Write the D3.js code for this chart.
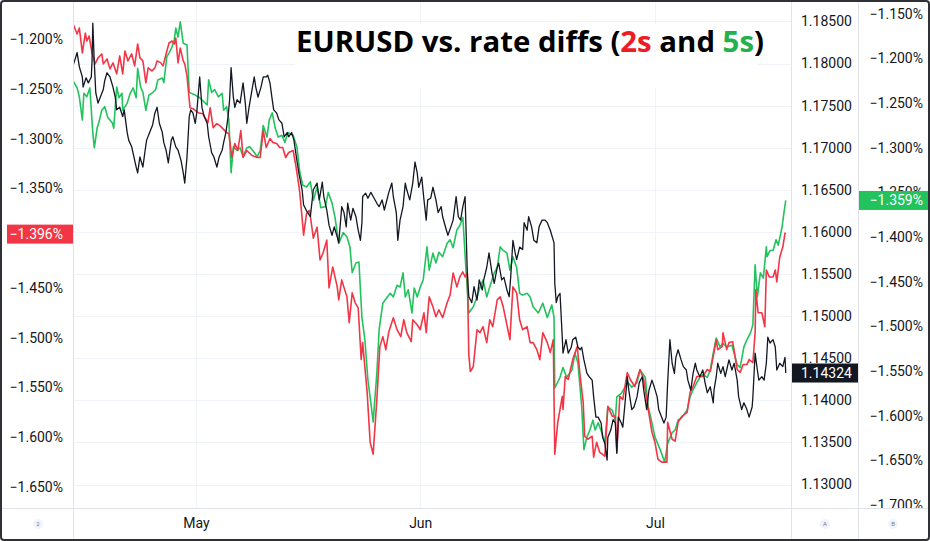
<!DOCTYPE html>
<html>
<head>
  <meta charset="utf-8">
  <title>EURUSD vs. rate diffs</title>
  <script src="https://d3js.org/d3.v7.min.js"></script>
  <style>
    body { margin: 0; background: #fff; }
    svg { display: block; background: #fff; font-family: Roboto, "DejaVu Sans", sans-serif; }
    .tick-label text { font-size: 14px; fill: #131722; }
    .sep { stroke: #e0e3eb; stroke-width: 1px; }
    .grid { stroke: #f0f3fa; stroke-width: 1px; }
    .series { fill: none; stroke-linejoin: round; }
    .last-label { font-size: 14px; fill: #fff; }
    .marker text { font-size: 6px; fill: #787b86; text-anchor: middle; }
  </style>
</head>
<body>
<svg></svg>
<script>
  //begin: data
  var monthLabels = ["May", "Jun", "Jul"];
  var monthTicks = [30.0, 60.0, 91.4]; // chart time position (days from Apr 1) of each month start

  var leftTicks = [-1.20, -1.25, -1.30, -1.35, -1.45, -1.50, -1.55, -1.60, -1.65];
  var eurTicks = [1.185, 1.18, 1.175, 1.17, 1.165, 1.16, 1.155, 1.15, 1.145, 1.14, 1.135, 1.13];
  var rightTicks = [-1.15, -1.20, -1.25, -1.30, -1.35, -1.40, -1.45, -1.50, -1.55, -1.60, -1.65, -1.70];

  // 2-year rate differential, % (left scale)
  var rate2s = [
    [13.5,-1.184],[14.1,-1.195],[14.4,-1.189],[14.8,-1.214],[15.2,-1.194],[15.4,-1.202],[15.7,-1.197],[16.1,-1.214],
    [16.5,-1.225],[16.9,-1.219],[17.4,-1.215],[17.6,-1.225],[18.1,-1.220],[18.5,-1.230],[18.9,-1.224],[19.4,-1.235],
    [19.8,-1.217],[20.2,-1.235],[20.5,-1.212],[20.9,-1.222],[21.4,-1.215],[21.8,-1.227],[22.2,-1.205],[22.5,-1.219],
    [22.9,-1.222],[23.3,-1.244],[23.6,-1.229],[24.1,-1.232],[24.5,-1.229],[24.8,-1.222],[25.3,-1.224],[25.6,-1.227],
    [26.0,-1.215],[26.4,-1.204],[26.8,-1.202],[27.1,-1.205],[27.3,-1.199],[27.6,-1.224],[27.9,-1.209],[28.3,-1.222],
    [28.5,-1.225],[28.8,-1.237],[29.2,-1.269],[29.6,-1.270],[30.3,-1.274],[30.9,-1.275],[31.6,-1.284],[31.9,-1.269],
    [32.3,-1.289],[32.8,-1.285],[33.2,-1.287],[33.6,-1.290],[34.1,-1.294],[34.4,-1.295],[34.8,-1.319],[35.2,-1.305],
    [35.6,-1.312],[36.0,-1.292],[36.3,-1.319],[36.8,-1.312],[37.5,-1.317],[38.2,-1.319],[38.6,-1.319],[39.0,-1.292],
    [39.4,-1.309],[39.9,-1.300],[40.3,-1.304],[40.8,-1.305],[41.2,-1.309],[41.6,-1.309],[42.0,-1.319],[42.4,-1.314],
    [43.0,-1.312],[43.4,-1.329],[43.8,-1.349],[43.9,-1.355],[44.4,-1.397],[44.8,-1.375],[45.2,-1.372],[45.7,-1.400],
    [46.2,-1.389],[46.6,-1.422],[47.0,-1.415],[47.5,-1.402],[47.8,-1.450],[48.3,-1.429],[48.6,-1.439],[48.9,-1.449],
    [49.1,-1.462],[49.5,-1.442],[49.9,-1.452],[50.2,-1.459],[50.5,-1.485],[50.9,-1.455],[51.3,-1.465],[51.7,-1.470],
    [52.1,-1.522],[52.3,-1.505],[52.9,-1.555],[53.3,-1.605],[53.7,-1.617],[54.2,-1.562],[54.6,-1.509],[55.0,-1.499],
    [55.4,-1.512],[55.8,-1.494],[56.4,-1.480],[56.9,-1.492],[57.4,-1.499],[57.8,-1.482],[58.2,-1.495],[58.8,-1.504],
    [59.0,-1.482],[59.6,-1.487],[60.0,-1.492],[60.5,-1.475],[60.8,-1.495],[61.2,-1.459],[61.7,-1.469],[62.1,-1.479],
    [62.5,-1.472],[63.0,-1.480],[63.6,-1.465],[64.0,-1.457],[64.4,-1.435],[64.9,-1.449],[65.3,-1.439],[65.7,-1.434],
    [66.0,-1.439],[66.3,-1.435],[66.5,-1.517],[66.7,-1.534],[67.1,-1.529],[67.6,-1.492],[68.0,-1.495],[68.4,-1.489],
    [68.9,-1.505],[69.3,-1.482],[69.7,-1.489],[70.3,-1.462],[70.7,-1.459],[71.1,-1.469],[72.0,-1.502],[72.4,-1.449],
    [72.9,-1.455],[73.3,-1.482],[73.7,-1.492],[74.3,-1.489],[74.7,-1.505],[75.1,-1.505],[75.6,-1.512],[76.0,-1.522],
    [76.4,-1.495],[77.0,-1.505],[77.4,-1.515],[77.8,-1.502],[78.0,-1.617],[78.4,-1.585],[79.0,-1.559],[79.1,-1.572],
    [79.4,-1.539],[79.8,-1.542],[80.4,-1.522],[81.0,-1.509],[81.4,-1.539],[81.8,-1.565],[82.0,-1.599],[82.4,-1.602],
    [83.0,-1.599],[83.2,-1.620],[83.6,-1.605],[84.0,-1.615],[84.7,-1.619],[85.1,-1.569],[85.7,-1.579],[86.1,-1.579],
    [86.3,-1.615],[86.7,-1.559],[87.1,-1.562],[87.7,-1.535],[88.1,-1.542],[88.7,-1.549],[89.4,-1.532],[89.9,-1.542],
    [90.5,-1.572],[91.0,-1.595],[91.4,-1.605],[91.8,-1.622],[92.3,-1.625],[93.0,-1.625],[93.1,-1.585],[93.7,-1.602],
    [94.1,-1.604],[94.5,-1.585],[95.0,-1.579],[95.7,-1.575],[96.1,-1.555],[96.5,-1.549],[97.0,-1.539],[97.8,-1.539],
    [98.4,-1.532],[98.8,-1.534],[99.2,-1.519],[99.6,-1.502],[99.8,-1.512],[100.4,-1.509],[100.5,-1.495],[101.0,-1.512],
    [101.3,-1.505],[101.8,-1.504],[102.4,-1.532],[102.8,-1.535],[103.2,-1.527],[103.7,-1.527],[104.0,-1.522],[104.5,-1.525],
    [104.8,-1.495],[104.9,-1.452],[105.2,-1.475],[105.7,-1.475],[106.1,-1.489],[106.3,-1.432],[106.7,-1.439],[107.2,-1.439],
    [107.5,-1.432],[107.7,-1.444],[108.1,-1.419],[108.5,-1.409],[108.8,-1.395],[108.9,-1.396]
  ];

  // 5-year rate differential, % (outer right scale)
  var rate5s = [
    [13.5,-1.224],[14.1,-1.233],[14.4,-1.243],[14.8,-1.269],[15.0,-1.239],[15.4,-1.243],[15.8,-1.233],[16.2,-1.283],
    [16.4,-1.300],[16.8,-1.277],[17.0,-1.272],[17.4,-1.258],[17.8,-1.254],[18.2,-1.266],[18.8,-1.272],[19.0,-1.278],
    [19.4,-1.232],[19.7,-1.244],[20.1,-1.239],[20.2,-1.258],[20.8,-1.250],[21.2,-1.239],[21.6,-1.233],[22.0,-1.244],
    [22.2,-1.211],[22.6,-1.232],[22.9,-1.238],[23.3,-1.258],[23.7,-1.241],[24.1,-1.239],[24.6,-1.235],[24.9,-1.224],
    [25.5,-1.222],[25.7,-1.227],[26.1,-1.198],[26.4,-1.194],[26.8,-1.187],[27.1,-1.179],[27.3,-1.166],[27.6,-1.176],
    [27.9,-1.159],[28.3,-1.183],[28.8,-1.185],[29.1,-1.238],[29.9,-1.241],[30.5,-1.244],[31.5,-1.252],[31.7,-1.224],
    [32.1,-1.238],[32.5,-1.235],[33.0,-1.243],[33.5,-1.239],[33.7,-1.258],[34.1,-1.254],[34.4,-1.269],[34.7,-1.328],
    [35.0,-1.299],[35.5,-1.303],[35.9,-1.300],[36.3,-1.310],[36.8,-1.300],[37.2,-1.299],[37.6,-1.303],[38.2,-1.310],
    [38.6,-1.303],[39.0,-1.275],[39.5,-1.288],[39.8,-1.269],[40.2,-1.261],[40.6,-1.278],[41.0,-1.288],[41.5,-1.286],
    [41.9,-1.294],[42.3,-1.283],[43.0,-1.286],[43.5,-1.299],[43.9,-1.328],[44.3,-1.342],[44.8,-1.344],[45.3,-1.338],
    [45.7,-1.359],[46.2,-1.344],[46.7,-1.367],[47.3,-1.366],[47.7,-1.350],[48.2,-1.362],[48.6,-1.378],[49.1,-1.407],
    [49.7,-1.395],[50.2,-1.400],[50.6,-1.411],[50.9,-1.440],[51.4,-1.429],[51.8,-1.428],[52.2,-1.490],[52.6,-1.515],
    [53.0,-1.560],[53.4,-1.586],[53.7,-1.607],[54.2,-1.552],[54.5,-1.504],[55.0,-1.474],[55.6,-1.467],[56.0,-1.463],
    [56.4,-1.467],[56.9,-1.454],[57.3,-1.456],[57.7,-1.440],[58.0,-1.467],[58.4,-1.459],[58.9,-1.485],[59.2,-1.457],
    [59.6,-1.467],[60.0,-1.456],[60.4,-1.448],[60.9,-1.411],[61.2,-1.437],[61.7,-1.418],[62.1,-1.429],[62.5,-1.417],
    [63.0,-1.422],[63.6,-1.407],[64.0,-1.403],[64.4,-1.412],[64.9,-1.392],[65.3,-1.387],[65.7,-1.378],[66.1,-1.434],
    [66.5,-1.485],[67.1,-1.478],[67.6,-1.467],[68.0,-1.456],[68.4,-1.448],[68.9,-1.467],[69.3,-1.456],[69.9,-1.440],
    [70.3,-1.434],[70.7,-1.411],[71.1,-1.415],[71.6,-1.418],[72.0,-1.437],[72.4,-1.422],[72.9,-1.434],[73.3,-1.463],
    [73.7,-1.465],[74.3,-1.463],[74.7,-1.467],[75.1,-1.478],[75.8,-1.485],[76.4,-1.474],[77.0,-1.490],[77.6,-1.476],
    [77.9,-1.490],[78.0,-1.569],[78.7,-1.557],[79.1,-1.546],[79.6,-1.557],[80.3,-1.549],[80.7,-1.530],[81.1,-1.541],
    [81.6,-1.590],[81.9,-1.638],[82.3,-1.624],[82.7,-1.616],[83.1,-1.605],[83.4,-1.616],[83.8,-1.608],[84.3,-1.619],
    [84.7,-1.631],[85.1,-1.590],[85.7,-1.594],[86.1,-1.605],[86.3,-1.579],[86.9,-1.575],[87.4,-1.568],[87.8,-1.563],
    [88.3,-1.568],[89.0,-1.563],[89.4,-1.549],[90.1,-1.557],[90.5,-1.590],[91.0,-1.608],[91.4,-1.624],[92.1,-1.638],
    [92.7,-1.652],[93.1,-1.631],[93.7,-1.619],[94.1,-1.616],[94.5,-1.605],[95.0,-1.602],[95.7,-1.594],[96.1,-1.579],
    [96.5,-1.571],[97.0,-1.563],[97.4,-1.557],[97.8,-1.554],[98.4,-1.557],[98.8,-1.549],[99.2,-1.530],[99.6,-1.513],
    [100.1,-1.523],[100.5,-1.519],[101.0,-1.523],[101.7,-1.521],[102.4,-1.543],[102.8,-1.546],[103.3,-1.523],[103.7,-1.515],
    [104.2,-1.507],[104.5,-1.498],[104.8,-1.431],[105.1,-1.467],[105.5,-1.440],[105.9,-1.446],[106.3,-1.411],[106.4,-1.422],
    [106.8,-1.415],[107.2,-1.415],[107.6,-1.403],[107.9,-1.409],[108.4,-1.389],[108.7,-1.370],[108.9,-1.359]
  ];

  // EURUSD (inner right scale)
  var eurusd = [
    [13.5,1.1796],[13.8,1.1804],[14.1,1.1813],[14.4,1.1796],[14.8,1.1784],[14.9,1.1772],[15.3,1.1783],[15.6,1.1777],
    [16.0,1.1784],[16.1,1.1804],[16.2,1.1848],[16.4,1.1801],[16.6,1.1765],[16.9,1.1753],[17.2,1.1760],[17.6,1.1769],
    [17.8,1.1780],[18.1,1.1789],[18.5,1.1784],[18.9,1.1772],[19.2,1.1760],[19.4,1.1745],[19.8,1.1748],[20.2,1.1737],
    [20.4,1.1745],[20.8,1.1718],[21.0,1.1709],[21.4,1.1701],[21.7,1.1689],[22.0,1.1677],[22.2,1.1670],[22.5,1.1689],
    [22.9,1.1677],[23.2,1.1697],[23.4,1.1709],[23.8,1.1718],[24.2,1.1727],[24.5,1.1741],[24.8,1.1748],[25.1,1.1729],
    [25.5,1.1718],[25.7,1.1706],[26.0,1.1697],[26.3,1.1682],[26.7,1.1709],[26.9,1.1713],[27.3,1.1701],[27.6,1.1697],
    [28.0,1.1685],[28.3,1.1670],[28.5,1.1658],[28.8,1.1689],[29.1,1.1737],[29.3,1.1745],[29.6,1.1741],[29.9,1.1729],
    [30.1,1.1741],[30.5,1.1784],[30.8,1.1748],[31.1,1.1737],[31.5,1.1729],[31.7,1.1713],[32.1,1.1694],[32.4,1.1689],
    [32.8,1.1677],[33.1,1.1689],[33.5,1.1697],[33.7,1.1706],[34.0,1.1718],[34.3,1.1737],[34.5,1.1757],[34.7,1.1795],
    [35.0,1.1760],[35.2,1.1748],[35.5,1.1757],[35.9,1.1753],[36.3,1.1777],[36.6,1.1753],[36.8,1.1729],[37.1,1.1748],
    [37.5,1.1769],[37.8,1.1784],[38.0,1.1772],[38.3,1.1760],[38.7,1.1772],[39.0,1.1784],[39.4,1.1784],[39.6,1.1786],
    [39.9,1.1777],[40.2,1.1757],[40.4,1.1745],[40.8,1.1741],[41.1,1.1733],[41.5,1.1729],[41.8,1.1713],[42.2,1.1718],
    [42.4,1.1713],[42.8,1.1718],[43.1,1.1709],[43.5,1.1685],[43.8,1.1668],[44.2,1.1650],[44.4,1.1632],[44.8,1.1625],
    [45.3,1.1618],[45.5,1.1634],[45.7,1.1650],[46.2,1.1658],[46.5,1.1638],[46.9,1.1659],[47.1,1.1642],[47.5,1.1626],
    [47.8,1.1608],[48.2,1.1596],[48.5,1.1606],[48.9,1.1594],[49.1,1.1587],[49.5,1.1630],[49.8,1.1623],[50.1,1.1606],
    [50.3,1.1634],[50.7,1.1614],[51.0,1.1628],[51.4,1.1618],[51.7,1.1602],[52.0,1.1590],[52.2,1.1611],[52.3,1.1642],
    [52.7,1.1646],[53.0,1.1640],[53.4,1.1647],[53.7,1.1642],[54.2,1.1634],[54.5,1.1630],[54.9,1.1638],[55.2,1.1626],
    [55.6,1.1640],[55.8,1.1647],[56.2,1.1658],[56.4,1.1642],[56.8,1.1623],[57.0,1.1590],[57.3,1.1614],[57.7,1.1630],
    [58.0,1.1658],[58.2,1.1650],[58.6,1.1638],[59.0,1.1658],[59.3,1.1683],[59.6,1.1670],[59.8,1.1653],[60.2,1.1665],
    [60.5,1.1638],[60.8,1.1614],[61.0,1.1638],[61.4,1.1640],[61.7,1.1653],[62.1,1.1638],[62.4,1.1623],[62.8,1.1630],
    [63.0,1.1618],[63.5,1.1602],[63.7,1.1596],[64.1,1.1606],[64.4,1.1614],[64.8,1.1642],[65.1,1.1618],[65.4,1.1614],
    [65.7,1.1630],[66.0,1.1642],[66.3,1.1551],[66.5,1.1523],[66.9,1.1516],[67.2,1.1535],[67.6,1.1519],[67.9,1.1543],
    [68.3,1.1531],[68.5,1.1543],[68.9,1.1558],[69.2,1.1575],[69.6,1.1551],[69.9,1.1539],[70.3,1.1558],[70.5,1.1563],
    [70.9,1.1543],[71.2,1.1546],[71.6,1.1531],[71.9,1.1523],[72.1,1.1546],[72.4,1.1590],[72.7,1.1575],[72.9,1.1567],
    [73.3,1.1582],[73.7,1.1579],[73.9,1.1611],[74.3,1.1602],[74.5,1.1618],[74.9,1.1606],[75.2,1.1590],[75.6,1.1587],
    [75.9,1.1606],[76.3,1.1614],[76.7,1.1614],[77.0,1.1611],[77.4,1.1602],[77.8,1.1590],[77.9,1.1587],[78.0,1.1539],
    [78.2,1.1516],[78.4,1.1523],[78.7,1.1527],[79.0,1.1475],[79.1,1.1456],[79.5,1.1472],[79.8,1.1456],[80.2,1.1463],
    [80.4,1.1472],[80.8,1.1475],[81.1,1.1463],[81.4,1.1460],[81.6,1.1463],[81.9,1.1448],[82.3,1.1432],[82.6,1.1428],
    [83.0,1.1424],[83.2,1.1404],[83.5,1.1380],[83.8,1.1380],[84.2,1.1373],[84.4,1.1356],[84.7,1.1349],[85.0,1.1329],
    [85.1,1.1356],[85.5,1.1365],[85.8,1.1377],[86.1,1.1373],[86.3,1.1337],[86.5,1.1380],[86.9,1.1373],[87.1,1.1368],
    [87.4,1.1397],[87.7,1.1428],[87.9,1.1412],[88.3,1.1389],[88.6,1.1392],[89.0,1.1404],[89.3,1.1421],[89.7,1.1428],
    [89.9,1.1412],[90.3,1.1389],[90.6,1.1412],[91.0,1.1424],[91.3,1.1416],[91.7,1.1404],[91.9,1.1389],[92.3,1.1380],
    [92.6,1.1373],[92.9,1.1380],[93.1,1.1421],[93.4,1.1472],[93.7,1.1444],[94.0,1.1432],[94.2,1.1451],[94.5,1.1460],
    [94.9,1.1448],[95.2,1.1440],[95.6,1.1436],[95.8,1.1424],[96.2,1.1412],[96.5,1.1432],[96.8,1.1444],[97.0,1.1436],
    [97.4,1.1428],[97.8,1.1436],[98.1,1.1421],[98.4,1.1409],[98.8,1.1416],[99.2,1.1397],[99.3,1.1412],[99.6,1.1428],
    [99.8,1.1444],[100.2,1.1432],[100.5,1.1440],[100.8,1.1428],[101.0,1.1436],[101.3,1.1448],[101.7,1.1436],[102.0,1.1444],
    [102.4,1.1424],[102.6,1.1404],[103.0,1.1389],[103.3,1.1397],[103.7,1.1389],[104.0,1.1380],[104.4,1.1392],[104.5,1.1404],
    [104.8,1.1456],[105.1,1.1436],[105.3,1.1424],[105.7,1.1428],[106.0,1.1424],[106.3,1.1444],[106.5,1.1475],[106.8,1.1468],
    [107.2,1.1472],[107.5,1.1463],[107.7,1.1436],[108.1,1.1444],[108.5,1.1440],[108.8,1.1451],[108.9,1.14324]
  ];
  //end: data

  //begin: layout conf.
  var svgWidth = 930,
    svgHeight = 541,
    paneLeft = 73,
    paneRight = 791.5,
    scale2Left = 858.5,
    paneBottom = 508.5,
    red = "#f23645",
    green = "#22c35d",
    black = "#131722";
  //end: layout conf.

  var x = d3.scaleLinear().domain([13.55, 109.6]).range([paneLeft, 791]);
  var yLeft = d3.scaleLinear().domain([-1.20, -1.65]).range([39, 487]);
  var yEur = d3.scaleLinear().domain([1.185, 1.13]).range([21.4, 484.5]);
  var yRight = d3.scaleLinear().domain([-1.15, -1.70]).range([13.8, 505]);

  var fmtPct = function (v) { return d3.format(".3f")(v) + "%"; },
    fmtEur = d3.format(".5f");

  var svg = d3.select("svg").attr("width", svgWidth).attr("height", svgHeight);
  var defs = svg.append("defs");
  defs.append("clipPath").attr("id", "pane-clip")
    .append("rect").attr("x", paneLeft).attr("y", 0)
    .attr("width", paneRight - paneLeft).attr("height", paneBottom);
  defs.append("clipPath").attr("id", "scale-clip")
    .append("rect").attr("x", 0).attr("y", 0)
    .attr("width", svgWidth).attr("height", paneBottom - 0.5);

  drawGrid();
  drawTitle();
  drawSeries();
  drawScales();
  drawLastLabels();
  drawFrame();

  function drawGrid() {
    var g = svg.append("g").classed("grids", true);
    g.selectAll(".hgrid").data(eurTicks).enter().append("line")
      .classed("grid", true)
      .attr("x1", paneLeft).attr("x2", paneRight)
      .attr("y1", function (d) { return Math.round(yEur(d)) + 0.5; })
      .attr("y2", function (d) { return Math.round(yEur(d)) + 0.5; });
    g.selectAll(".vgrid").data(monthTicks).enter().append("line")
      .classed("grid", true)
      .attr("x1", function (d) { return Math.round(x(d)) + 0.5; })
      .attr("x2", function (d) { return Math.round(x(d)) + 0.5; })
      .attr("y1", 0).attr("y2", paneBottom);
  }

  function drawTitle() {
    svg.append("rect")
      .attr("x", 295).attr("y", 24).attr("width", 462).attr("height", 64)
      .style("fill", "#fff");
    var t = svg.append("text")
      .attr("x", 296).attr("y", 52)
      .attr("textLength", 468).attr("lengthAdjust", "spacingAndGlyphs")
      .style("font-family", "'Open Sans', 'Noto Sans', sans-serif")
      .style("font-weight", 700).style("font-size", "28px").style("fill", "#000");
    t.append("tspan").text("EURUSD vs. rate diffs (");
    t.append("tspan").style("fill", "#ed1c24").text("2s");
    t.append("tspan").text(" and ");
    t.append("tspan").style("fill", "#22b14c").text("5s");
    t.append("tspan").text(")");
  }

  function drawSeries() {
    var g = svg.append("g").attr("clip-path", "url(#pane-clip)");
    var lineEur = d3.line().x(function (d) { return x(d[0]); }).y(function (d) { return yEur(d[1]); });
    var line2s = d3.line().x(function (d) { return x(d[0]); }).y(function (d) { return yLeft(d[1]); });
    var line5s = d3.line().x(function (d) { return x(d[0]); }).y(function (d) { return yRight(d[1]); });

    g.append("path").classed("series", true).attr("d", line5s(rate5s))
      .style("stroke", green).style("stroke-width", 1.6);
    g.append("path").classed("series", true).attr("d", line2s(rate2s))
      .style("stroke", red).style("stroke-width", 1.6);
    g.append("path").classed("series", true).attr("d", lineEur(eurusd))
      .style("stroke", black).style("stroke-width", 1.3);
  }

  function cleanAxis(g) {
    g.select(".domain").remove();
    g.selectAll(".tick line").remove();
    g.attr("font-size", null).attr("font-family", null).classed("tick-label", true);
  }

  function drawScales() {
    svg.append("g")
      .attr("transform", "translate(63,0)")
      .call(d3.axisLeft(yLeft).tickValues(leftTicks).tickFormat(fmtPct).tickSize(0).tickPadding(0))
      .call(cleanAxis);

    svg.append("g")
      .attr("transform", "translate(801,0)")
      .call(d3.axisRight(yEur).tickValues(eurTicks).tickFormat(fmtEur).tickSize(0).tickPadding(0))
      .call(cleanAxis);

    svg.append("g")
      .attr("clip-path", "url(#scale-clip)")
      .append("g")
      .attr("transform", "translate(923,0)")
      .call(d3.axisLeft(yRight).tickValues(rightTicks).tickFormat(fmtPct).tickSize(0).tickPadding(0))
      .call(cleanAxis);

    svg.append("g")
      .attr("transform", "translate(0,518)")
      .call(d3.axisBottom(x).tickValues(monthTicks)
        .tickFormat(function (d, i) { return monthLabels[i]; }).tickSize(0).tickPadding(0))
      .call(cleanAxis);
  }

  function drawLastLabels() {
    var last2s = rate2s[rate2s.length - 1][1],
      last5s = rate5s[rate5s.length - 1][1],
      lastEur = eurusd[eurusd.length - 1][1];
    var labels = [
      { x: 7, w: paneLeft - 7, y: yLeft(last2s), fill: red, text: fmtPct(last2s), tx: 63, anchor: "end" },
      { x: paneRight, w: scale2Left - paneRight, y: yEur(lastEur), fill: black, text: fmtEur(lastEur), tx: 801, anchor: "start" },
      { x: scale2Left, w: 70, y: yRight(last5s), fill: green, text: fmtPct(last5s), tx: 923, anchor: "end" }
    ];
    var g = svg.append("g").selectAll("g").data(labels).enter().append("g");
    g.append("rect")
      .attr("x", function (d) { return d.x; })
      .attr("y", function (d) { return d.y - 9.5; })
      .attr("width", function (d) { return d.w; })
      .attr("height", 19)
      .style("fill", function (d) { return d.fill; });
    g.append("text")
      .classed("last-label", true)
      .attr("x", function (d) { return d.tx; })
      .attr("y", function (d) { return d.y; })
      .attr("dy", "0.35em")
      .attr("text-anchor", function (d) { return d.anchor; })
      .text(function (d) { return d.text; });
  }

  function drawFrame() {
    var g = svg.append("g");
    g.append("line").classed("sep", true)
      .attr("x1", 0).attr("x2", svgWidth).attr("y1", paneBottom).attr("y2", paneBottom);
    [paneLeft + 0.5, paneRight, scale2Left].forEach(function (xx) {
      g.append("line").classed("sep", true)
        .attr("x1", xx).attr("x2", xx).attr("y1", 0).attr("y2", svgHeight);
    });

    var markers = g.selectAll(".marker").data([[38, "2"], [825, "A"], [893, "B"]]).enter()
      .append("g").classed("marker", true)
      .attr("transform", function (d) { return "translate(" + [d[0], 524] + ")"; });
    markers.append("circle").attr("r", 5).style("fill", "#f0f3fa");
    markers.append("text").attr("dy", "0.35em").text(function (d) { return d[1]; });

    g.append("rect")
      .attr("x", 1).attr("y", 1).attr("width", svgWidth - 2).attr("height", svgHeight - 2)
      .attr("rx", 3)
      .style("fill", "none").style("stroke", "#2f3136").style("stroke-width", 2);
  }
</script>
</body>
</html>
